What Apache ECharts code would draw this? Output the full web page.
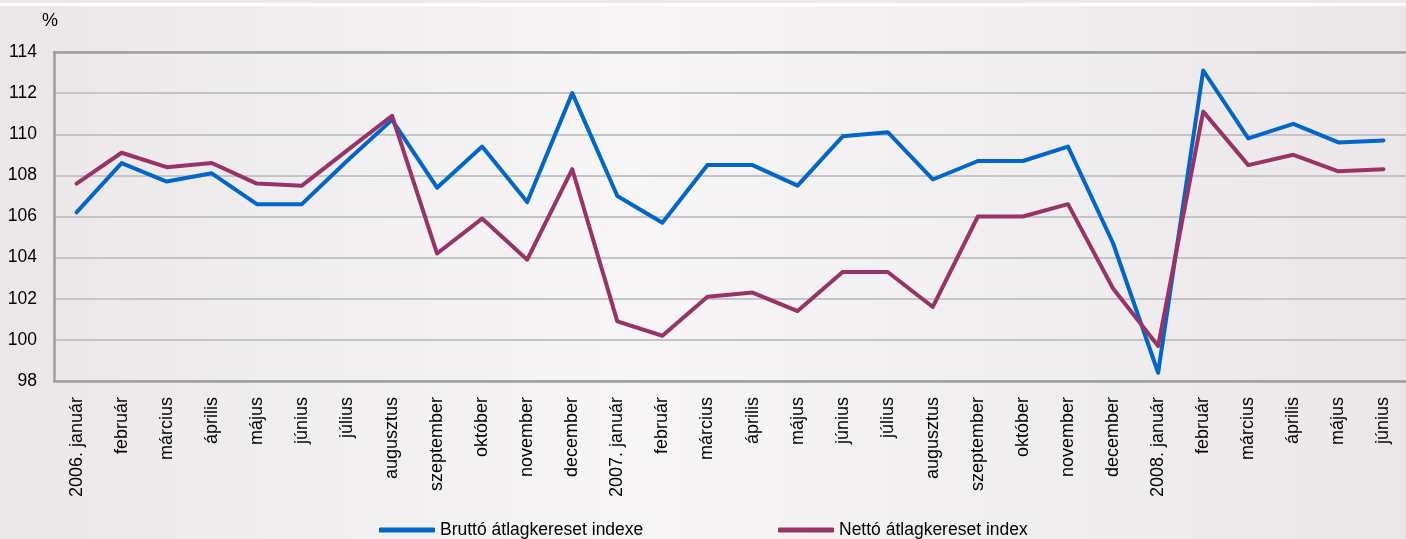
<!DOCTYPE html>
<html>
<head>
<meta charset="UTF-8"/>
<title>Bruttó és nettó átlagkereset indexe</title>
<script src="https://cdn.jsdelivr.net/npm/echarts@6/dist/echarts.min.js"></script>
<style>
html,body{margin:0;padding:0;background:#efebed;}
#main{width:1406px;height:539px;}
</style>
</head>
<body>
<div id="main"></div>
<script type="text/javascript">
// havi adatok, 2006. január - 2008. június
var honapok = ['2006. január','február','március','április','május','június','július','augusztus','szeptember','október','november','december',
  '2007. január','február','március','április','május','június','július','augusztus','szeptember','október','november','december',
  '2008. január','február','március','április','május','június'];

var brutto = [106.2,108.6,107.7,108.1,106.6,106.6,108.7,110.7,107.4,109.4,106.7,112.0,
  107.0,105.7,108.5,108.5,107.5,109.9,110.1,107.8,108.7,108.7,109.4,104.7,
  98.4,113.1,109.8,110.5,109.6,109.7];

var netto = [107.6,109.1,108.4,108.6,107.6,107.5,109.2,110.9,104.2,105.9,103.9,108.3,
  100.9,100.2,102.1,102.3,101.4,103.3,103.3,101.6,106.0,106.0,106.6,102.5,
  99.7,111.1,108.5,109.0,108.2,108.3];

var nevek = ['Bruttó átlagkereset indexe', 'Nettó átlagkereset index'];

var betu = '"Liberation Sans",Arial,sans-serif';

var myChart = echarts.init(document.getElementById('main'));

var option = {
    backgroundColor: {
        type: 'linear', x: 0, y: 0, x2: 1, y2: 0,
        colorStops: [
            {offset: 0, color: '#ebe7e9'},
            {offset: 0.45, color: '#f7f5f6'},
            {offset: 1, color: '#ebe7e9'}
        ]
    },
    animation: false,
    textStyle: {fontFamily: betu, color: '#000'},
    graphic: [
        {type: 'rect', left: 0, top: 0, shape: {width: 1406, height: 3}, style: {fill: '#ece8ea'}},
        {type: 'rect', left: 0, top: 3, shape: {width: 1406, height: 3}, style: {fill: '#ffffff'}}
    ],
    grid: {left: 54, top: 52, bottom: 158, right: -6, containLabel: false},
    legend: [
        {
            data: [nevek[0]], left: 374, top: 516,
            icon: 'roundRect', itemWidth: 56, itemHeight: 5,
            textStyle: {fontSize: 17.5, fontFamily: betu, color: '#000'}
        },
        {
            data: [nevek[1]], left: 773, top: 516,
            icon: 'roundRect', itemWidth: 56, itemHeight: 5,
            textStyle: {fontSize: 17.5, fontFamily: betu, color: '#000'}
        }
    ],
    xAxis: [
        {
            type: 'category',
            data: honapok,
            boundaryGap: true,
            axisLine: {lineStyle: {color: '#9e9e9e', width: 2.5}},
            axisTick: {show: false},
            axisLabel: {
                interval: 0,
                rotate: 90,
                margin: 16,
                fontSize: 18,
                fontFamily: betu,
                color: '#000'
            }
        },
        {
            type: 'category',
            data: honapok,
            position: 'top',
            axisLine: {lineStyle: {color: '#9e9e9e', width: 2.5}},
            axisTick: {show: false},
            axisLabel: {show: false}
        }
    ],
    yAxis: {
        type: 'value',
        min: 98,
        max: 114,
        interval: 2,
        name: '%',
        nameLocation: 'end',
        nameGap: 22,
        nameTextStyle: {fontSize: 18, fontFamily: betu, color: '#000', padding: [0, 8, 0, 0]},
        axisLine: {show: true, lineStyle: {color: '#9e9e9e', width: 2.5}},
        axisTick: {show: false},
        axisLabel: {margin: 17, fontSize: 17.5, fontFamily: betu, color: '#000'},
        splitLine: {lineStyle: {color: '#c4c4c4', width: 2}}
    },
    series: [
        {
            name: nevek[0],
            type: 'line',
            data: brutto,
            symbol: 'none',
            color: '#0066cc',
            lineStyle: {color: '#0066cc', width: 4, join: 'round', cap: 'round'}
        },
        {
            name: nevek[1],
            type: 'line',
            data: netto,
            symbol: 'none',
            color: '#993366',
            lineStyle: {color: '#993366', width: 4, join: 'round', cap: 'round'}
        }
    ]
};

myChart.setOption(option);
</script>
</body>
</html>
